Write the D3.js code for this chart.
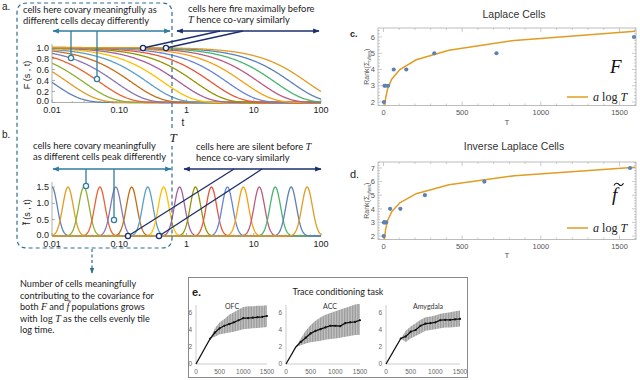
<!DOCTYPE html>
<html><head><meta charset="utf-8">
<script src="https://cdnjs.cloudflare.com/ajax/libs/d3/7.8.5/d3.min.js"></script>
<style>html,body{margin:0;padding:0;background:#fff;} svg{display:block;}</style>
</head><body>
<svg id="fig" width="640" height="380"></svg>
<script>
// ---------------- data ----------------
const cellTau = [0.01, 0.0173, 0.0298, 0.0515, 0.0889, 0.153, 0.265, 0.457, 0.789, 1.36, 2.35, 4.06, 7.0, 12.1, 20.9, 36.0, 62.2];
const cellPeak = 1.5;
const cellWidthLn = 0.18;
const cellColors = ["#5E81B5","#E19C24","#8FB032","#EB6235","#8778B3","#C56E1A","#5D9EC7","#FFBF00","#A5609D","#929600","#E95536","#6685D9","#F89F13","#BC5B80","#47B66D"];
const logTicks = [0.01, 0.1, 1, 10, 100];
const logTickLabels = ["0.01", "0.10", "1", "10", "100"];
const fTicks = [0, 0.2, 0.4, 0.6, 0.8, 1.0];
const fTickLabels = ["0.0", "0.2", "0.4", "0.6", "0.8", "1.0"];
const ftTicks = [0, 0.5, 1.0, 1.5];
const ftTickLabels = ["0.0", "0.5", "1.0", "1.5"];

const laplaceT = [3, 6, 13, 29, 65, 145, 323, 718, 1592];
const laplaceRank = [2, 3, 3, 3, 4, 4, 5, 5, 6];
const laplaceFitT = [3, 6.5, 13, 26, 52, 104, 208, 416, 832, 1600];
const laplaceFitRank = [0.95, 1.61, 2.21, 2.81, 3.40, 4.00, 4.60, 5.19, 5.79, 6.35];
const inverseT = [1.2, 3, 7, 17, 42, 107, 263, 641, 1567];
const inverseRank = [2, 3, 3, 3, 4, 4, 5, 6, 7];
const inverseFitT = [3, 6.5, 13, 26, 52, 104, 208, 416, 832, 1600];
const inverseFitRank = [1.05, 1.79, 2.45, 3.12, 3.78, 4.44, 5.11, 5.77, 6.43, 7.06];
const rankTicksC = [2, 3, 4, 5, 6];
const rankTicksD = [2, 3, 4, 5, 6, 7];
const bigTTicks = [0, 500, 1000, 1500];

const traceT = [0, 100, 200, 300, 400, 500, 600, 700, 800, 900, 1000, 1100, 1200, 1300, 1400, 1500];
const traceRegions = ["OFC", "ACC", "Amygdala"];
const ofcMean = [0, 1, 2, 3, 3.7, 4.2, 4.5, 4.7, 4.9, 5.15, 5.4, 5.4, 5.45, 5.5, 5.55, 5.65];
const ofcLow  = [0, 1, 2, 3, 3.2, 3.5, 3.6, 3.7, 3.8, 3.95, 4.1, 4.15, 4.2, 4.25, 4.3, 4.35];
const ofcHigh = [0, 1, 2, 3, 4.2, 4.9, 5.3, 5.8, 6.1, 6.4, 6.7, 6.8, 6.8, 6.85, 6.85, 6.9];
const accMean = [0, 1, 2, 2.6, 3.1, 3.6, 3.9, 4.1, 4.3, 4.5, 4.5, 4.45, 4.8, 4.9, 4.95, 5.15];
const accLow  = [0, 1, 2, 2.2, 2.4, 2.55, 2.65, 2.75, 2.85, 2.95, 3.0, 3.1, 3.2, 3.3, 3.4, 3.45];
const accHigh = [0, 1, 2, 3.0, 3.9, 4.6, 5.1, 5.5, 5.8, 6.0, 6.2, 6.4, 6.6, 6.8, 7.0, 7.1];
const amyMean = [0, 1, 2, 3, 3.25, 3.8, 4.0, 4.5, 4.75, 4.8, 4.9, 5.15, 5.2, 5.2, 5.25, 5.3];
const amyLow  = [0, 1, 2, 3, 2.6, 3.0, 3.3, 3.6, 3.9, 4.0, 4.1, 4.2, 4.3, 4.3, 4.35, 4.4];
const amyHigh = [0, 1, 2, 3, 3.9, 4.4, 4.8, 5.2, 5.5, 5.6, 5.7, 5.9, 6.0, 6.1, 6.2, 6.3];
const traceTicksY = [0, 2, 4, 6];
const traceTicksX = [0, 500, 1000, 1500];

// ---------------- helpers ----------------
const svg = d3.select("#fig");
const SANS = "'Liberation Sans', Arial, sans-serif";
const TXT = "Lato, 'Open Sans', sans-serif";
const SERIF = "'Liberation Serif', 'DejaVu Serif', serif";
const TEAL = "#2F7DA0", NAVY = "#1B2F6E", BOXC = "#2E6E92";

const defs = svg.append("defs");
function marker(id, color, dir) {
  const m = defs.append("marker").attr("id", id).attr("viewBox", "0 0 10 10")
    .attr("refX", 9).attr("refY", 5).attr("markerWidth", 5).attr("markerHeight", 5)
    .attr("orient", dir);
  m.append("path").attr("d", "M0,1 L10,5 L0,9 Z").attr("fill", color);
}
marker("tealHead", TEAL, "auto-start-reverse");
marker("navyHead", NAVY, "auto-start-reverse");
marker("boxHead", BOXC, "auto");

function measure(text, family, size) {
  const t = svg.append("text").attr("font-family", family).attr("font-size", size).text(text);
  const w = t.node().getComputedTextLength(); t.remove(); return w;
}
function rich(g, x, y, parts, size, color, anchor) {
  const t = g.append("text").attr("x", x).attr("y", y).attr("font-size", size)
    .attr("fill", color || "#222").attr("font-family", TXT).attr("text-anchor", anchor || "start");
  parts.forEach(p => {
    const s = t.append("tspan").text(p.t);
    if (p.m) s.attr("font-family", SERIF).attr("font-style", p.up ? "normal" : "italic").attr("font-size", size * 1.1);
  });
  return t;
}

// ---------------- panels a & b ----------------
const xLog = d3.scaleLog().domain([0.01, 100]).range([52, 321]);
const yA = d3.scaleLinear().domain([0, 1]).range([102.5, 47.5]);
const yB = d3.scaleLinear().domain([0, 1.5]).range([236, 187]);
const tSamples = d3.range(0, 401).map(i => xLog.invert(52 + i * (269 / 400)));

defs.append("clipPath").attr("id", "clipA").append("rect").attr("x", 52).attr("y", 40).attr("width", 270).attr("height", 64);
defs.append("clipPath").attr("id", "clipB").append("rect").attr("x", 52).attr("y", 180).attr("width", 270).attr("height", 57);

function logAxes(y0, yScale, ticks, labels, yTop) {
  const g = svg.append("g").attr("stroke", "#999").attr("stroke-width", 0.8);
  g.append("line").attr("x1", 52).attr("x2", 321).attr("y1", y0).attr("y2", y0);
  g.append("line").attr("x1", 52).attr("x2", 52).attr("y1", y0).attr("y2", yTop);
  const minor = [];
  [0.01, 0.1, 1, 10].forEach(d => { for (let k = 2; k <= 9; k++) minor.push(d * k); });
  minor.forEach(v => g.append("line").attr("x1", xLog(v)).attr("x2", xLog(v)).attr("y1", y0).attr("y2", y0 - 1.5));
  logTicks.forEach(v => g.append("line").attr("x1", xLog(v)).attr("x2", xLog(v)).attr("y1", y0).attr("y2", y0 - 3));
  ticks.forEach(v => g.append("line").attr("x1", 52).attr("x2", 55).attr("y1", yScale(v)).attr("y2", yScale(v)));
  const tl = svg.append("g").attr("font-family", SANS).attr("font-size", 9).attr("fill", "#222");
  logTicks.forEach((v, i) => tl.append("text").attr("x", xLog(v)).attr("y", y0 + 10.5).attr("text-anchor", "middle").text(logTickLabels[i]));
  ticks.forEach((v, i) => tl.append("text").attr("x", 49).attr("y", yScale(v) + (i === 0 ? 1.5 : 3)).attr("text-anchor", "end").text(labels[i]));
}
logAxes(102.5, yA, fTicks, fTickLabels, 44);
logAxes(236, yB, ftTicks, ftTickLabels, 182);

// F curves
const gA = svg.append("g").attr("clip-path", "url(#clipA)");
cellTau.forEach((tau, i) => {
  const line = d3.line().x(t => xLog(t)).y(t => yA(Math.exp(-t / tau)));
  gA.append("path").attr("d", line(tSamples)).attr("fill", "none")
    .attr("stroke", cellColors[i % cellColors.length]).attr("stroke-width", 1.3);
});
// f-tilde curves
const gB = svg.append("g").attr("clip-path", "url(#clipB)");
cellTau.forEach((tau, i) => {
  const line = d3.line().x(t => xLog(t)).y(t => {
    const u = Math.log(t / tau) / cellWidthLn;
    return yB(cellPeak * Math.exp(-0.5 * u * u));
  });
  gB.append("path").attr("d", line(tSamples)).attr("fill", "none")
    .attr("stroke", cellColors[i % cellColors.length]).attr("stroke-width", 1.3);
});

// axis labels
svg.append("text").attr("x", 183).attr("y", 126).attr("text-anchor", "middle").attr("font-family", SANS).attr("font-size", 10).attr("fill", "#222").text("t");
svg.append("text").attr("transform", "translate(30,75) rotate(-90)").attr("text-anchor", "middle").attr("font-family", SANS).attr("font-size", 9).attr("fill", "#222").text("F (s , t)");
svg.append("text").attr("transform", "translate(30,212) rotate(-90)").attr("text-anchor", "middle").attr("font-family", SANS).attr("font-size", 9).attr("fill", "#222").text("f\u0303 (s , t)");

// panel letters
svg.append("text").attr("x", 2).attr("y", 10).attr("font-family", SANS).attr("font-size", 10).attr("fill", "#222").text("a.");
svg.append("text").attr("x", 2).attr("y", 138).attr("font-family", SANS).attr("font-size", 10).attr("fill", "#222").text("b.");

// dashed box
svg.append("path").attr("d", "M172,128 L172,13 Q172,3 162,3 L27,3 Q17,3 17,13 L17,238 Q17,248 27,248 L162,248 Q172,248 172,238 L172,146")
  .attr("fill", "none").attr("stroke", BOXC).attr("stroke-width", 1.2).attr("stroke-dasharray", "4,3");
svg.append("line").attr("x1", 92).attr("x2", 92).attr("y1", 249).attr("y2", 273)
  .attr("stroke", BOXC).attr("stroke-width", 1.2).attr("stroke-dasharray", "3,2.5").attr("marker-end", "url(#boxHead)");
svg.append("text").attr("x", 173).attr("y", 142).attr("text-anchor", "middle").attr("font-family", SERIF).attr("font-style", "italic").attr("font-size", 13).attr("fill", "#222").text("T");

// annotations
const annSize = 10 * 134 / measure("cells here covary meaningfully as", TXT, 10);
const ann = svg.append("g");
rich(ann, 23, 13, [{t: "cells here covary meaningfully as"}], annSize);
rich(ann, 23, 24, [{t: "different cells decay differently"}], annSize);
rich(ann, 188, 12, [{t: "cells here fire maximally before"}], annSize);
rich(ann, 188, 23, [{t: "T", m: 1}, {t: " hence co-vary similarly"}], annSize);
rich(ann, 33, 149, [{t: "cells here covary meaningfully"}], annSize);
rich(ann, 33, 160, [{t: "as different cells peak differently"}], annSize);
rich(ann, 196, 150, [{t: "cells here are silent before "}, {t: "T", m: 1}], annSize);
rich(ann, 196, 161, [{t: "hence co-vary similarly"}], annSize);

function arrowLine(x1, y1, x2, y2, color, head, both) {
  const l = svg.append("line").attr("x1", x1).attr("y1", y1).attr("x2", x2).attr("y2", y2)
    .attr("stroke", color).attr("stroke-width", 1.3);
  if (head) { l.attr("marker-end", `url(#${head})`); if (both) l.attr("marker-start", `url(#${head})`); }
  return l;
}
function dot(x, y, color) {
  svg.append("circle").attr("cx", x).attr("cy", y).attr("r", 2.6).attr("fill", "#fff").attr("stroke", color).attr("stroke-width", 1.3);
}
// a left
arrowLine(53, 31, 170, 31, TEAL, "tealHead", true);
arrowLine(71, 31, 71, 55.5, TEAL); dot(71, 58, TEAL);
arrowLine(97, 31, 97, 76.5, TEAL); dot(97, 79, TEAL);
// a right
arrowLine(177, 31, 319, 31, NAVY, "navyHead", true);
arrowLine(143, 48, 220, 31, NAVY); dot(143, 48, NAVY);
arrowLine(166, 48, 243, 31, NAVY); dot(166, 48, NAVY);
// b left
arrowLine(53, 169, 171, 169, TEAL, "tealHead", true);
arrowLine(86, 169, 86, 183.5, TEAL); dot(86, 186, TEAL);
arrowLine(114, 169, 114, 217.5, TEAL); dot(114, 220, TEAL);
// b right
arrowLine(184, 169, 321, 169, NAVY, "navyHead", true);
arrowLine(128, 236, 234, 169, NAVY); dot(128, 236, NAVY);
arrowLine(159, 236, 262, 169, NAVY); dot(159, 236, NAVY);

// explanatory text
const noteSize = 10 * 134 / measure("contributing to the covariance for", TXT, 10);
const note = svg.append("g");
rich(note, 20, 287, [{t: "Number of cells meaningfully"}], noteSize);
rich(note, 20, 298.5, [{t: "contributing to the covariance for"}], noteSize);
rich(note, 20, 310, [{t: "both "}, {t: "F", m: 1}, {t: " and "}, {t: "f\u0303", m: 1}, {t: " populations grows"}], noteSize);
rich(note, 20, 321.5, [{t: "with "}, {t: "log", m: 1, up: 1}, {t: " "}, {t: "T", m: 1}, {t: " as the cells evenly tile"}], noteSize);
rich(note, 20, 333, [{t: "log time."}], noteSize);

// ---------------- panels c & d ----------------
const xT = d3.scaleLinear().domain([0, 1500]).range([383.5, 619.5]);
function rankPanel(cfg) {
  const {top, bottom, yDomainTicks, y2, yHi, title, titleY, pts, fit, letter, letterY, letterSize, letterBold, big, legendY, labelY} = cfg;
  const y = d3.scaleLinear().domain([2, yHi]).range([y2, cfg.yHiPx]);
  const L = 378, R = 636;
  const id = "clip" + letter;
  defs.append("clipPath").attr("id", id).append("rect").attr("x", L).attr("y", top).attr("width", R - L).attr("height", bottom - top);
  const g = svg.append("g");
  g.append("rect").attr("x", L).attr("y", top).attr("width", R - L).attr("height", bottom - top)
    .attr("fill", "none").attr("stroke", "#b5b5b5").attr("stroke-width", 0.9);
  const tk = g.append("g").attr("stroke", "#b5b5b5").attr("stroke-width", 0.7);
  d3.range(0, 1700, 100).forEach(v => {
    const major = v % 500 === 0, len = major ? 4 : 2, xx = xT(v);
    if (xx < L || xx > R) return;
    tk.append("line").attr("x1", xx).attr("x2", xx).attr("y1", bottom).attr("y2", bottom - len);
    tk.append("line").attr("x1", xx).attr("x2", xx).attr("y1", top).attr("y2", top + len);
  });
  d3.range(10, 75).map(v => v / 10).forEach(v => {
    const yy = y(v); if (yy < top || yy > bottom) return;
    const major = Math.abs(v - Math.round(v)) < 1e-6, isMinor = Math.abs(v * 5 - Math.round(v * 5)) < 1e-6;
    if (!major && !isMinor) return;
    const len = major ? 4 : 2;
    tk.append("line").attr("x1", L).attr("x2", L + len).attr("y1", yy).attr("y2", yy);
    tk.append("line").attr("x1", R).attr("x2", R - len).attr("y1", yy).attr("y2", yy);
  });
  const lab = g.append("g").attr("font-family", SANS).attr("font-size", 7.5).attr("fill", "#555");
  bigTTicks.forEach(v => lab.append("text").attr("x", xT(v)).attr("y", bottom + 9.5).attr("text-anchor", "middle").text(v));
  yDomainTicks.forEach(v => lab.append("text").attr("x", 375).attr("y", y(v) + 2.7).attr("text-anchor", "end").text(v));
  lab.append("text").attr("x", 507).attr("y", labelY).attr("text-anchor", "middle").attr("font-size", 8).text("T");
  const yl = lab.append("text").attr("transform", `translate(369,${(top + bottom) / 2}) rotate(-90)`).attr("text-anchor", "middle").attr("font-size", 7);
  yl.append("tspan").text("Rank(\u03A3");
  yl.append("tspan").attr("font-size", 4.5).attr("dy", 1.5).text("when");
  yl.append("tspan").attr("dy", -1.5).text(")");
  svg.append("text").attr("x", 514).attr("y", titleY).attr("text-anchor", "middle").attr("font-family", SANS).attr("font-size", 10.5).attr("fill", "#333").text(title);
  svg.append("text").attr("x", 350).attr("y", letterY).attr("font-family", SANS).attr("font-size", letterSize).attr("font-weight", letterBold ? "bold" : "normal").attr("fill", "#222").text(letter + ".");
  // fit line
  const line = d3.line().x(d => xT(d[0])).y(d => y(d[1]));
  g.append("path").attr("clip-path", `url(#${id})`).attr("d", line(fit[0].map((t, i) => [t, fit[1][i]])))
    .attr("fill", "none").attr("stroke", "#E19C24").attr("stroke-width", 1.5);
  g.append("g").selectAll("circle").data(pts[0].map((t, i) => [t, pts[1][i]])).join("circle")
    .attr("cx", d => xT(d[0])).attr("cy", d => y(d[1])).attr("r", 2.1).attr("fill", "#5E81B5");
  // legend
  g.append("line").attr("x1", 567).attr("x2", 588).attr("y1", legendY).attr("y2", legendY).attr("stroke", "#E19C24").attr("stroke-width", 1.5);
  rich(g, 593, legendY + 3.5, [{t: "a", m: 1}, {t: " log ", m: 1, up: 1}, {t: "T", m: 1}], 11, "#222");
  big(g);
}
rankPanel({top: 28, bottom: 105.5, yDomainTicks: rankTicksC, y2: 102, yHi: 6, yHiPx: 37, title: "Laplace Cells", titleY: 18,
  pts: [laplaceT, laplaceRank], fit: [laplaceFitT, laplaceFitRank], letter: "c", letterY: 37, letterSize: 9, letterBold: true,
  legendY: 97, labelY: 125,
  big: g => g.append("text").attr("x", 610).attr("y", 73).attr("font-family", SERIF).attr("font-style", "italic").attr("font-size", 19).attr("fill", "#111").text("F")});
rankPanel({top: 162, bottom: 239.5, yDomainTicks: rankTicksD, y2: 236, yHi: 7, yHiPx: 168, title: "Inverse Laplace Cells", titleY: 150,
  pts: [inverseT, inverseRank], fit: [inverseFitT, inverseFitRank], letter: "d", letterY: 178, letterSize: 11, letterBold: false,
  legendY: 228, labelY: 258,
  big: g => {
    g.append("text").attr("x", 612).attr("y", 201).attr("font-family", SERIF).attr("font-style", "italic").attr("font-size", 19).attr("fill", "#111").text("f");
    g.append("path").attr("d", "M614,185.5 C615.5,182.5 617.5,183 619,184.5 C620.5,186 622,186 623.5,183.3").attr("fill", "none").attr("stroke", "#111").attr("stroke-width", 1.1);
  }});

// ---------------- panel e ----------------
svg.append("rect").attr("x", 188.5).attr("y", 277.5).attr("width", 279).attr("height", 100).attr("fill", "#fff").attr("stroke", "#8a8a8a").attr("stroke-width", 1);
svg.append("text").attr("x", 192).attr("y", 296).attr("font-family", SANS).attr("font-weight", "bold").attr("font-size", 11).attr("fill", "#222").text("e.");
svg.append("text").attr("x", 338).attr("y", 295).attr("text-anchor", "middle").attr("font-family", TXT).attr("font-size", 9).attr("fill", "#222").text("Trace conditioning task");
const ePanels = [
  {x0: 196, x1: 267, cx: 232, mean: ofcMean, lo: ofcLow, hi: ofcHigh},
  {x0: 286, x1: 360, cx: 330, mean: accMean, lo: accLow, hi: accHigh},
  {x0: 386, x1: 460, cx: 428, mean: amyMean, lo: amyLow, hi: amyHigh}
];
const yE = d3.scaleLinear().domain([0, 7]).range([364, 304.5]);
const hatch = defs.append("pattern").attr("id", "hatch").attr("patternUnits", "userSpaceOnUse").attr("width", 1.6).attr("height", 4);
hatch.append("rect").attr("width", 1.6).attr("height", 4).attr("fill", "#c4c4c4");
hatch.append("rect").attr("width", 0.8).attr("height", 4).attr("fill", "#989898");
ePanels.forEach((p, k) => {
  const x = d3.scaleLinear().domain([0, 1500]).range([p.x0, p.x1]);
  const g = svg.append("g");
  const rows = traceT.map((t, i) => ({t, m: p.mean[i], lo: p.lo[i], hi: p.hi[i]}));
  g.append("path").attr("d", d3.area().x(d => x(d.t)).y0(d => yE(d.lo)).y1(d => yE(d.hi))(rows)).attr("fill", "url(#hatch)");
  g.append("line").attr("x1", p.x0).attr("x2", p.x0).attr("y1", 364).attr("y2", 305).attr("stroke", "#aaa").attr("stroke-width", 0.6);
  g.append("line").attr("x1", p.x0).attr("x2", p.x1).attr("y1", 364).attr("y2", 364).attr("stroke", "#aaa").attr("stroke-width", 0.6);
  g.append("path").attr("d", d3.line().x(d => x(d.t)).y(d => yE(d.m))(rows)).attr("fill", "none").attr("stroke", "#111").attr("stroke-width", 1.3);
  g.selectAll("circle").data(rows.filter(d => d.t >= 300)).join("circle").attr("cx", d => x(d.t)).attr("cy", d => yE(d.m)).attr("r", 1.1).attr("fill", "#111");
  const lab = g.append("g").attr("font-family", SANS).attr("font-size", 6.5).attr("fill", "#666");
  traceTicksX.forEach(v => lab.append("text").attr("x", x(v)).attr("y", 374).attr("text-anchor", "middle").text(v));
  traceTicksY.forEach(v => lab.append("text").attr("x", p.x0 - 4).attr("y", yE(v) + 2.3).attr("text-anchor", "end").text(v));
  svg.append("text").attr("x", p.cx).attr("y", 309).attr("text-anchor", "middle").attr("font-family", TXT).attr("font-size", 7).attr("fill", "#333").text(traceRegions[k]);
});
</script>
</body></html>
